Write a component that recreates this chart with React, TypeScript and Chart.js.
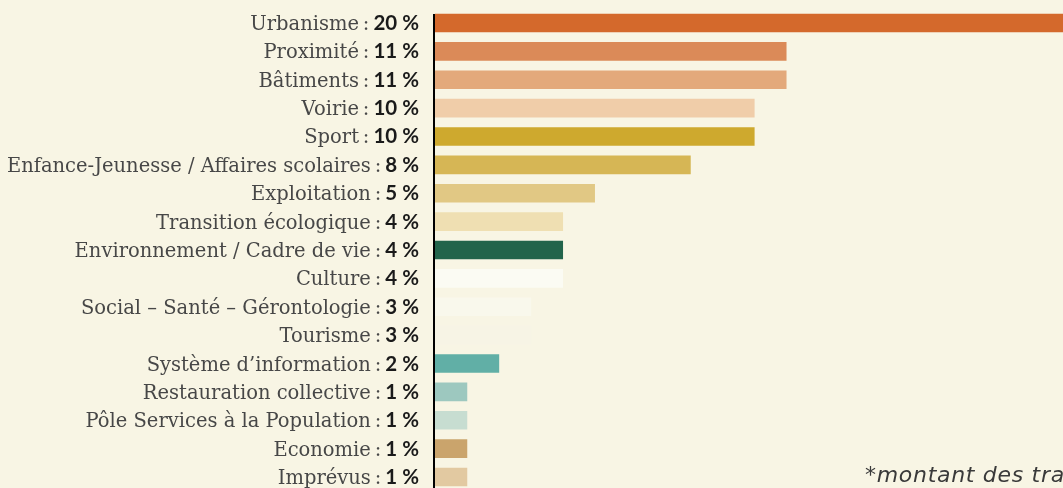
import React, { useEffect, useRef } from "react";
import { Chart, registerables } from "chart.js";

Chart.register(...registerables);

const categories = [
  "Urbanisme",
  "Proximité",
  "Bâtiments",
  "Voirie",
  "Sport",
  "Enfance-Jeunesse / Affaires scolaires",
  "Exploitation",
  "Transition écologique",
  "Environnement / Cadre de vie",
  "Culture",
  "Social – Santé – Gérontologie",
  "Tourisme",
  "Système d’information",
  "Restauration collective",
  "Pôle Services à la Population",
  "Economie",
  "Imprévus",
];

const values = [20, 11, 11, 10, 10, 8, 5, 4, 4, 4, 3, 3, 2, 1, 1, 1, 1];

const barColors = [
  "#D4692C",
  "#DB8A58",
  "#E3A97B",
  "#F0CDA9",
  "#CEA92E",
  "#D6B655",
  "#E1C884",
  "#EFDFB2",
  "#22644B",
  "#FBFBF3",
  "#F9F8EC",
  "#F7F4E5",
  "#61AFA6",
  "#9DC8BF",
  "#C7DDD1",
  "#CAA46C",
  "#E2C9A1",
];

const footnote = "*montant des travaux";

const BG = "#F8F5E4";
const NAME_FONT = "19.5px 'DejaVu Serif'";
const PCT_FONT = "bold 20.5px Lato";

const labelPlugin = {
  id: "labelPlugin",
  afterDatasetsDraw(chart: any) {
    const ctx = chart.ctx;
    const yScale = chart.scales.y;
    const area = chart.chartArea;
    ctx.save();
    // axis line
    const top = yScale.getPixelForValue(0) - 9;
    ctx.fillStyle = "#000";
    ctx.fillRect(area.left - 2, top, 2, chart.height - top);
    ctx.textBaseline = "alphabetic";
    ctx.textAlign = "right";
    const rightX = area.left - 16;
    categories.forEach((name, i) => {
      const y = yScale.getPixelForValue(i) + 7;
      const pct = `${values[i]} %`;
      ctx.font = PCT_FONT;
      ctx.fillStyle = "#1a1a1a";
      ctx.fillText(pct, rightX, y);
      const w = ctx.measureText(pct).width;
      ctx.font = NAME_FONT;
      ctx.fillStyle = "#474747";
      ctx.fillText(name + "\u2009:", rightX - w - 4, y);
    });
    ctx.textAlign = "left";
    ctx.font = "italic 22px 'DejaVu Sans'";
    (ctx as any).letterSpacing = "0.7px";
    ctx.fillStyle = "#3a3a3a";
    ctx.fillText(footnote, 865, 482);
    ctx.restore();
  },
};

export default function App() {
  const ref = useRef<HTMLCanvasElement>(null);
  useEffect(() => {
    if (!ref.current) return;
    const chart = new Chart(ref.current, {
      type: "bar",
      data: {
        labels: categories,
        datasets: [
          {
            data: values,
            backgroundColor: barColors,
            borderWidth: 0,
            barThickness: 18,
          },
        ],
      },
      options: {
        indexAxis: "y",
        animation: false,
        responsive: false,
        maintainAspectRatio: false,
        layout: { padding: { left: 435, right: 0, top: 8.8, bottom: 8.8 } },
        plugins: { legend: { display: false }, tooltip: { enabled: false } },
        scales: {
          x: { display: false, min: 0, max: 19.67 },
          y: { display: false, offset: true },
        },
      },
      plugins: [labelPlugin],
    });
    return () => chart.destroy();
  }, []);
  return (
    <div
      style={{
        position: "fixed",
        left: 0,
        top: 0,
        width: 1063,
        height: 488,
        overflow: "hidden",
        background: BG,
      }}
    >
      <canvas ref={ref} width={1063} height={500} style={{ display: "block" }} />
    </div>
  );
}
